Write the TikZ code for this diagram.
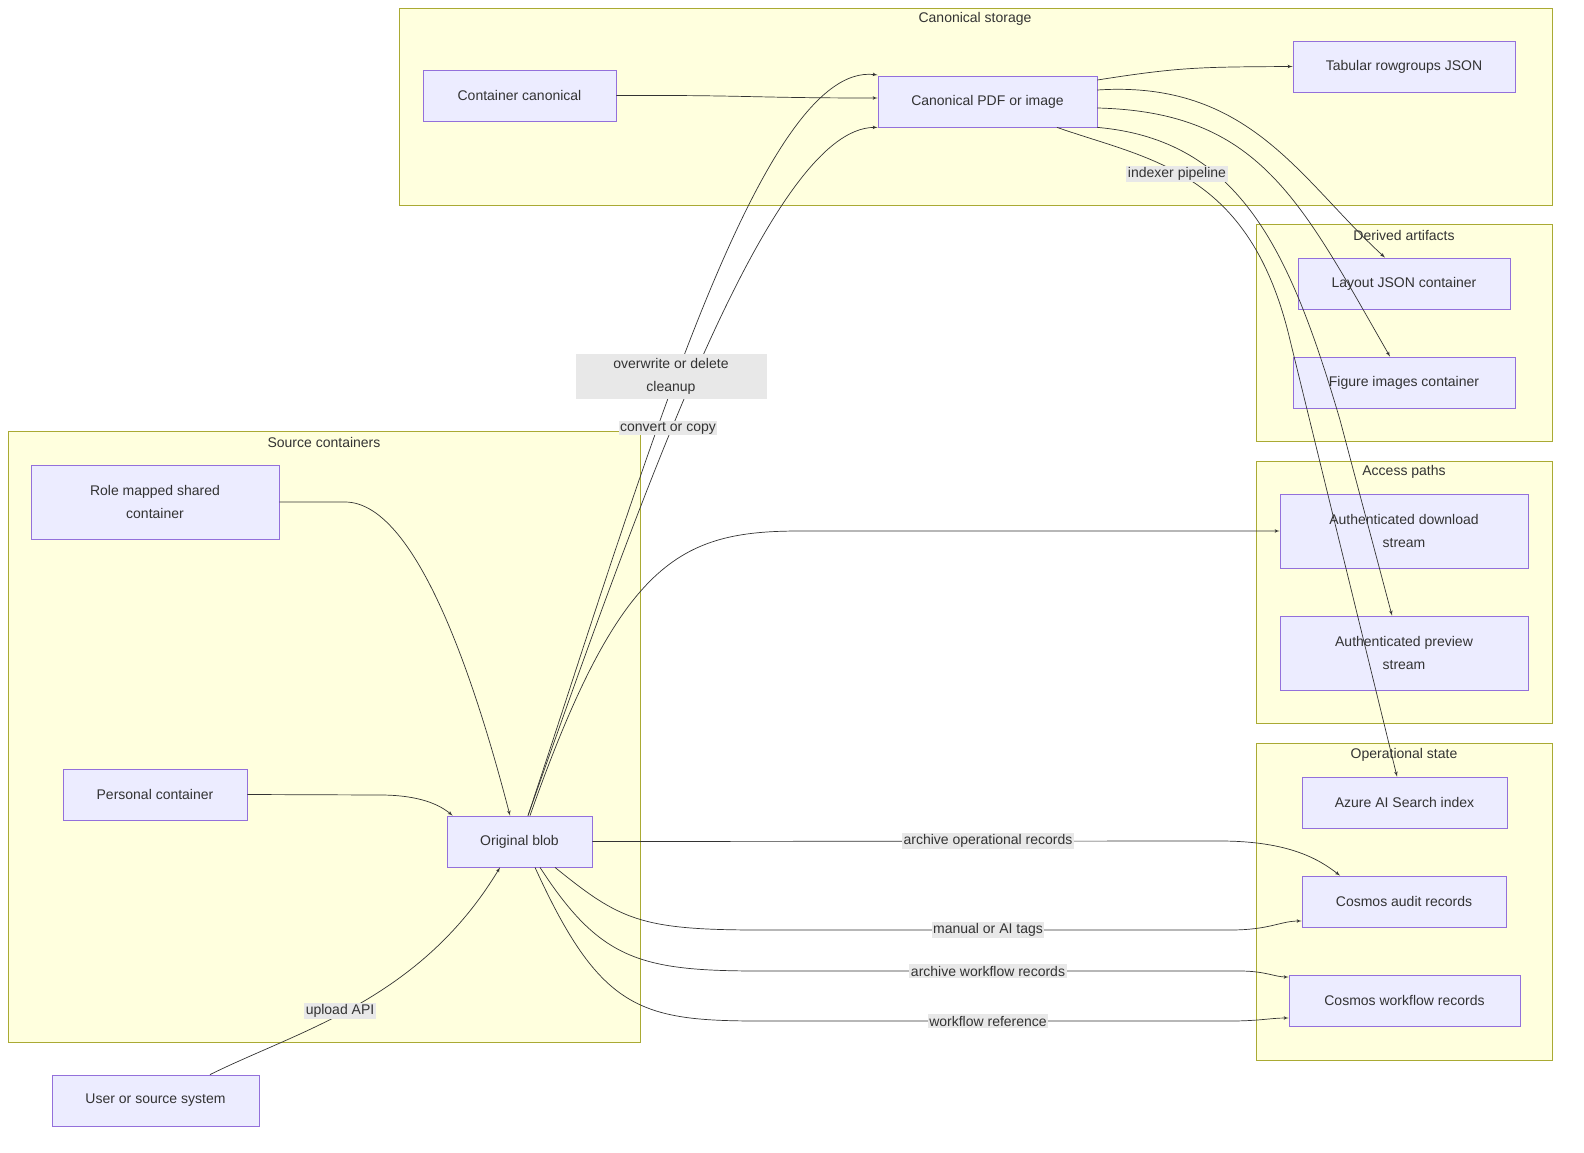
\documentclass[tikz,border=0pt]{standalone}
\usepackage{fontspec}
\setmainfont{Liberation Sans}
\usetikzlibrary{arrows, positioning}
\definecolor{clfill}{HTML}{FFFFDE}
\definecolor{cldraw}{HTML}{AAAA33}
\definecolor{ndfill}{HTML}{ECECFF}
\definecolor{nddraw}{HTML}{9370DB}
\definecolor{txt}{HTML}{333333}
\tikzstyle{group} = [rectangle, draw=cldraw, fill=clfill, line width=0.8pt]
\tikzstyle{title} = [text=txt, font=\fontsize{14}{17}\selectfont]
\tikzstyle{block} = [rectangle, draw=nddraw, fill=ndfill, line width=0.8pt,
    text=txt, font=\fontsize{14}{23}\selectfont, align=center,
    text centered, minimum height=51pt, inner sep=0pt]
\tikzstyle{line} = [draw, -latex', color=txt, line width=0.7pt]
\tikzstyle{lbl} = [fill=black!9, text=txt, font=\fontsize{14}{23}\selectfont,
    align=center, inner sep=1.5pt]

\begin{document}
\begin{tikzpicture}[x=1pt, y=-1pt]
    \useasboundingbox (0,0) rectangle (1584,1153);

    % groups
    \draw [group] (399,8) rectangle (1552,205);
    \node [title] at (975,19) {Canonical storage};
    \draw [group] (8,431) rectangle (640,1042);
    \node [title] at (324,442) {Source containers};
    \draw [group] (1256,224) rectangle (1552,441);
    \node [title] at (1404,235) {Derived artifacts};
    \draw [group] (1256,461) rectangle (1552,723);
    \node [title] at (1404,472) {Access paths};
    \draw [group] (1256,743) rectangle (1552,1060);
    \node [title] at (1404,755) {Operational state};

    % nodes
    \node [block, minimum width=193pt] (cc) at (519.5,95.5) {Container canonical};
    \node [block, minimum width=219pt] (pdf) at (987.5,101.5) {Canonical PDF or image};
    \node [block, minimum width=222pt] (tab) at (1404,66.5) {Tabular rowgroups JSON};
    \node [block, minimum width=212pt] (layout) at (1404,283.5) {Layout JSON container};
    \node [block, minimum width=222pt] (fig) at (1404,382.5) {Figure images container};
    \node [block, minimum width=248pt, minimum height=74pt] (dl) at (1404,531) {Authenticated download\\stream};
    \node [block, minimum width=248pt, minimum height=74pt] (prev) at (1404,653) {Authenticated preview\\stream};
    \node [block, minimum width=205pt] (azure) at (1404.5,802.5) {Azure AI Search index};
    \node [block, minimum width=204pt] (audit) at (1404,901.5) {Cosmos audit records};
    \node [block, minimum width=231pt] (wf) at (1404.5,1000.5) {Cosmos workflow records};
    \node [block, minimum width=248pt, minimum height=74pt] (role) at (155,502) {Role mapped shared\\container};
    \node [block, minimum width=184pt] (personal) at (155,794.5) {Personal container};
    \node [block, minimum width=145pt] (blob) at (519.5,841.5) {Original blob};
    \node [block, minimum width=207pt] (user) at (155.5,1100.5) {User or source system};

    % connectors
    \path [line] (cc.east) .. controls (750,95) and (750,98) .. ([yshift=3.5pt]pdf.west);
    \path [line] ([yshift=21.5pt]pdf.east) .. controls (1180,67) and (1200,67) .. (tab.west);
    \path [line] ([yshift=11.5pt]pdf.east) .. controls (1250,80) and (1300,180) .. ([xshift=-19pt]layout.north);
    \path [line] ([yshift=-6.5pt]pdf.east) .. controls (1260,112) and (1300,200) .. ([xshift=-14pt]fig.north);
    \path [line] (pdf.south east) .. controls (1240,140) and (1290,250) .. (1340,420) -- ([xshift=-12pt]prev.north);
    \path [line] ([xshift=69.5pt]pdf.south) .. controls (1150,160) and (1250,170) .. (1290,340) -- ([xshift=-7.5pt]azure.north);
    \path [line] ([xshift=8.5pt]blob.north) .. controls (640,480) and (760,60) .. ([yshift=26.5pt]pdf.west);
    \path [line] ([xshift=8.5pt]blob.north) .. controls (640,500) and (770,127) .. (pdf.south west);
    \path [line] ([xshift=10.5pt]blob.north) .. controls (620,560) and (680,531) .. (800,531) -- (dl.west);
    \path [line] (blob.east) -- (1220,841) .. controls (1290,841) and (1320,860) .. ([xshift=-64pt]audit.north);
    \path [line] ([xshift=35.5pt]blob.south) .. controls (620,920) and (640,930) .. (760,930) -- (1230,930) .. controls (1270,930) and (1280,921) .. ([yshift=-19.5pt]audit.west);
    \path [line] ([xshift=20.5pt]blob.south) .. controls (600,960) and (640,971) .. (760,971) -- (1240,971) .. controls (1265,971) and (1275,977) .. ([yshift=23.5pt]wf.west);
    \path [line] ([xshift=15.5pt]blob.south) .. controls (600,1010) and (640,1021) .. (760,1021) -- (1230,1021) .. controls (1260,1021) and (1270,1018) .. ([yshift=-17.5pt]wf.west);
    \path [line] ([xshift=54.5pt]user.north) .. controls (300,1030) and (420,1000) .. ([xshift=-19.5pt]blob.south);
    \path [line] (role.east) -- (345,502) .. controls (420,502) and (480,700) .. ([xshift=-9.5pt]blob.north);
    \path [line] (personal.east) -- (380,795) .. controls (420,795) and (440,805) .. ([xshift=6pt]blob.north west);

    % edge labels
    \node [lbl, minimum width=191pt, minimum height=45pt] (l1) at (671,376) {overwrite or delete\\cleanup};
    \node [lbl] (l2) at (668,428) {convert or copy};
    \node [lbl] (l3) at (1177,174) {indexer pipeline};
    \node [lbl] (l4) at (988,841) {archive operational records};
    \node [lbl] (l5) at (988,930) {manual or AI tags};
    \node [lbl] (l6) at (988,971) {archive workflow records};
    \node [lbl] (l7) at (988,1021) {workflow reference};
    \node [lbl] (l8) at (340,1011) {upload API};

\end{tikzpicture}
\end{document}
